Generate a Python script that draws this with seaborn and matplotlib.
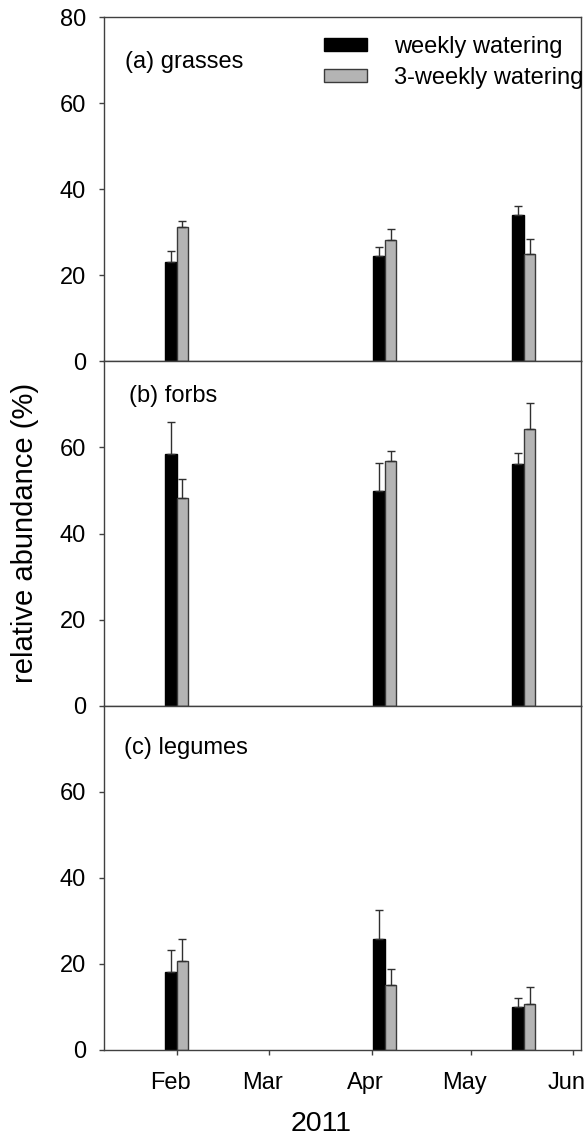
import numpy as np
import pandas as pd
import matplotlib
matplotlib.use("Agg")
import matplotlib.pyplot as plt
import matplotlib.dates as mdates
import matplotlib.transforms as mtransforms
import seaborn as sns

# ---- data -------------------------------------------------------------
sample_dates = ["2011-02-01", "2011-04-05", "2011-05-17"]
treatments = ["weekly watering", "3-weekly watering"]
month_ticks = ["2011-02-01", "2011-03-01", "2011-04-01", "2011-05-01", "2011-06-01"]
month_labels = ["Feb", "Mar", "Apr", "May", "Jun"]

grasses_weekly = [23.2, 24.6, 34.1]
grasses_weekly_se = [2.4, 1.9, 1.9]
grasses_3weekly = [31.2, 28.2, 25.0]
grasses_3weekly_se = [1.4, 2.5, 3.4]

forbs_weekly = [58.6, 49.8, 56.1]
forbs_weekly_se = [7.3, 6.6, 2.7]
forbs_3weekly = [48.3, 56.8, 64.4]
forbs_3weekly_se = [4.4, 2.4, 5.9]

legumes_weekly = [18.1, 25.7, 10.1]
legumes_weekly_se = [5.2, 6.9, 2.0]
legumes_3weekly = [20.6, 15.0, 10.6]
legumes_3weekly_se = [5.1, 3.8, 4.0]

panel_titles = ["(a) grasses", "(b) forbs", "(c) legumes"]
panels = [
    (grasses_weekly, grasses_weekly_se, grasses_3weekly, grasses_3weekly_se),
    (forbs_weekly, forbs_weekly_se, forbs_3weekly, forbs_3weekly_se),
    (legumes_weekly, legumes_weekly_se, legumes_3weekly, legumes_3weekly_se),
]

# ---- style ------------------------------------------------------------
sns.set_theme(style="white")
plt.rcParams["font.family"] = ["Liberation Sans", "DejaVu Sans"]
plt.rcParams["text.color"] = "black"
plt.rcParams["axes.labelcolor"] = "black"
plt.rcParams["xtick.color"] = "black"
plt.rcParams["ytick.color"] = "black"
spine_col = "#404040"
palette = {"weekly watering": "#000000", "3-weekly watering": "#b4b4b4"}
edge_cols = ["#000000", "#3a3a3a"]

day_nums = mdates.date2num(pd.to_datetime(sample_dates))
bar_days = 3.5  # width of one bar in days
native_step = np.diff(np.sort(day_nums)).min()
group_width = 2 * bar_days / native_step

fig = plt.figure(figsize=(5.87, 11.36), dpi=100)
W, H = 587.0, 1136.0
ax_left, ax_width = 104.3 / W, 476.4 / W
panel_h = 344.3 / H
bottoms = [(86 + 2 * 344.3) / H, (86 + 344.3) / H, 86 / H]

axes = []
for i in range(3):
    ax = fig.add_axes([ax_left, bottoms[i], ax_width, panel_h],
                      sharex=axes[0] if axes else None)
    axes.append(ax)

xlim = (mdates.date2num(pd.Timestamp("2011-01-10")) + 0.1,
        mdates.date2num(pd.Timestamp("2011-06-03")) + 0.24)
tick_nums = mdates.date2num(pd.to_datetime(month_ticks))

text_pos = [(0.0435, 0.853), (0.0508, 0.881), (0.0405, 0.859)]

for i, (ax, (w, w_se, t, t_se)) in enumerate(zip(axes, panels)):
    df = pd.DataFrame({
        "day": np.concatenate([day_nums, day_nums]),
        "value": list(w) + list(t),
        "treatment": [treatments[0]] * len(w) + [treatments[1]] * len(t),
    })
    sns.barplot(data=df, x="day", y="value", hue="treatment",
                hue_order=treatments, palette=palette, native_scale=True,
                dodge=True, width=group_width, errorbar=None, legend=False,
                saturation=1, linewidth=1.0, ax=ax)

    errs = [w_se, t_se]
    for ci, cont in enumerate(ax.containers[:2]):
        bars = sorted(cont.patches, key=lambda b: b.get_x())
        order = np.argsort(day_nums)
        for bar, j in zip(bars, order):
            bar.set_edgecolor(edge_cols[ci])
            bar.set_linewidth(1.0)
            xc = bar.get_x() + bar.get_width() / 2
            h = bar.get_height()
            ax.errorbar([xc], [h], yerr=[[0], [errs[ci][j]]], fmt="none",
                        ecolor="#303030", elinewidth=1.0, capsize=2.6,
                        capthick=1.0, zorder=1)

    ax.set_xlim(*xlim)
    ax.set_ylim(0, 80)
    ax.set_yticks([0, 20, 40, 60, 80] if i == 0 else [0, 20, 40, 60])
    ax.set_xticks(tick_nums)
    ax.set_xlabel("")
    ax.set_ylabel("")
    for sp in ax.spines.values():
        sp.set_visible(True)
        sp.set_color(spine_col)
        sp.set_linewidth(1.0)
    ax.tick_params(axis="both", which="major", direction="out", length=3.6,
                   width=1.0, color=spine_col, labelsize=17, labelcolor="black",
                   bottom=True, left=True)
    ax.tick_params(axis="y", pad=9.4)
    ax.tick_params(axis="x", pad=12.5)
    ax.text(text_pos[i][0], text_pos[i][1], panel_titles[i],
            transform=ax.transAxes, fontsize=17, ha="left", va="baseline",
            color="black")
    if i < 2:
        ax.tick_params(labelbottom=False)

axes[-1].set_xticklabels(month_labels)
shift = mtransforms.ScaledTranslation(-6.5 / 100, 0, fig.dpi_scale_trans)
for lab in axes[-1].get_xticklabels():
    lab.set_transform(lab.get_transform() + shift)

# legend in the top panel
top = axes[0]
leg = top.legend(handles=top.containers[:2], labels=treatments, loc="upper left",
                 bbox_to_anchor=(0.4618, 0.946), frameon=False, fontsize=17,
                 borderpad=0, borderaxespad=0, handlelength=1.8,
                 handleheight=0.45, handletextpad=1.16, labelspacing=0.40)
for txt in leg.get_texts():
    txt.set_color("black")

fig.text(25 / W, 1 - 532.5 / H, "relative abundance (%)", rotation=90,
         fontsize=21, ha="center", va="center", color="black")
fig.text(320.8 / W, 5 / H, "2011", fontsize=20.5, ha="center", va="baseline",
         color="black")

fig.savefig("out.png", dpi=100)
